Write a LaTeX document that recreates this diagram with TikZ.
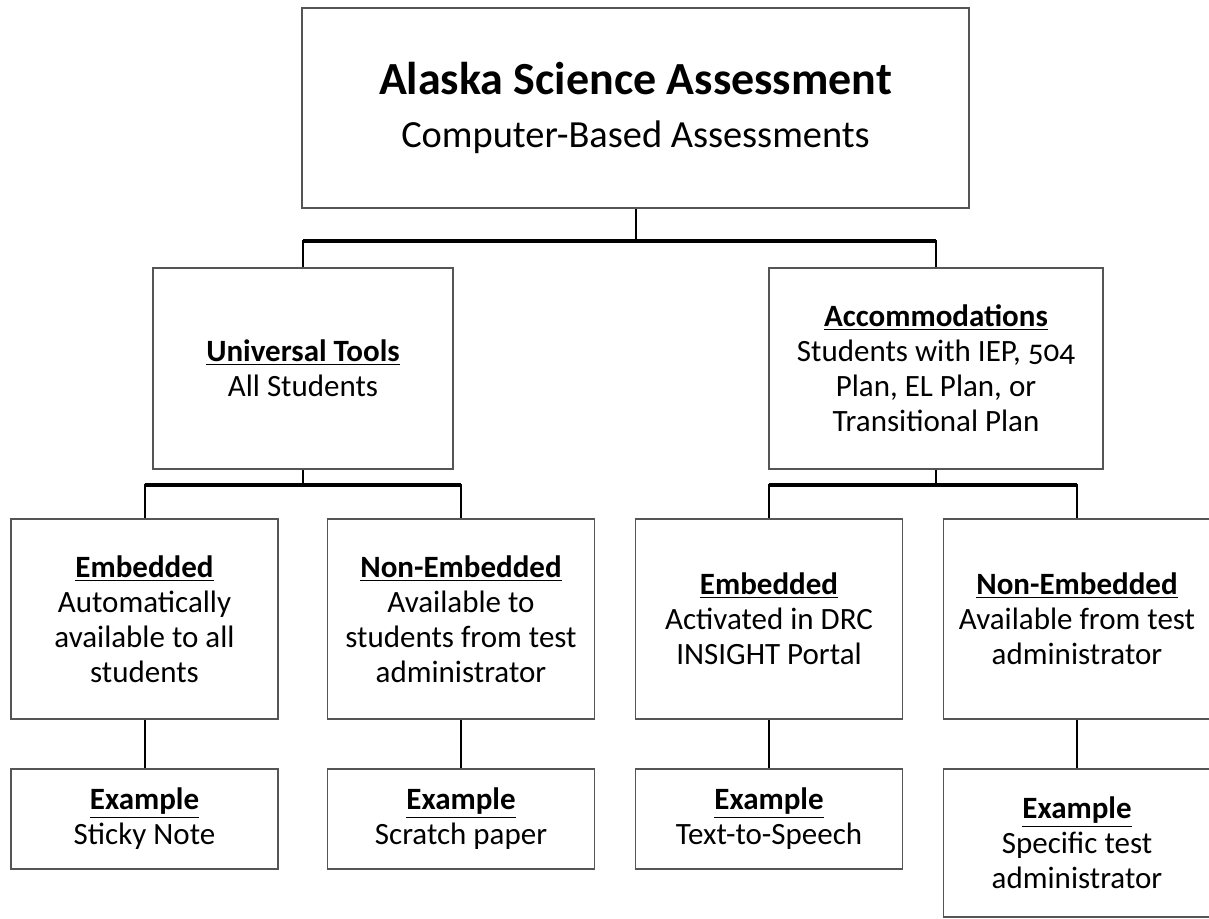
\documentclass[tikz,border=0pt]{standalone}
\usepackage{fontspec}
\setmainfont{Carlito}[Numbers=OldStyle]
\definecolor{gray700}{HTML}{555555}
\tikzstyle{caixa}=[rectangle, draw=gray700, line width=0.8pt, align=center, inner sep=0pt, font=\fontsize{15.5}{17.5}\selectfont]
\tikzstyle{nivel3}=[caixa, minimum width=133.5pt, minimum height=100pt]
\tikzstyle{nivel4}=[caixa, minimum width=133.5pt, minimum height=50pt]
\newcommand{\cab}[1]{\textbf{\underline{#1}}}

\begin{document}
\begin{tikzpicture}[x=0.5pt, y=-0.5pt, line width=1pt]
			\useasboundingbox (0,0) rectangle (1209,918);
			\node[caixa, minimum width=333.5pt, minimum height=100pt] (asa) at (635.5,108)
				{{\fontsize{23}{27}\bfseries Alaska Science Assessment}\\[9pt]{\fontsize{19.2}{22}\selectfont Computer-Based Assessments}};
			\node[caixa, minimum width=150pt, minimum height=100.5pt] (ut) at (303,368.5) {\cab{Universal Tools}\\All Students};
			\node[caixa, minimum width=167pt, minimum height=100.5pt] (acc) at (936,368.5) {\cab{Accommodations}\\Students with IEP, 504\\Plan, EL Plan, or\\Transitional Plan};
			\node[nivel3] (utemb) at (144.5,619) {\cab{Embedded}\\Automatically\\available to all\\students};
			\node[nivel3] (utnon) at (461,619) {\cab{Non-Embedded}\\Available to\\students from test\\administrator};
			\node[nivel3] (accemb) at (769,619) {\cab{Embedded}\\Activated in DRC\\INSIGHT Portal};
			\node[nivel3] (accnon) at (1077,619) {\cab{Non-Embedded}\\Available from test\\administrator};
			\node[nivel4] (utembex) at (144.5,819) {\cab{Example}\\Sticky Note};
			\node[nivel4] (utnonex) at (461,819) {\cab{Example}\\Scratch paper};
			\node[nivel4] (accembex) at (769,819) {\cab{Example}\\Text-to-Speech};
			\node[nivel4, minimum height=74pt] (accnonex) at (1077,843) {\cab{Example}\\Specific test\\administrator};
			\coordinate (j1) at (635.5,241);
			\coordinate (j2) at (303,485);
			\coordinate (j3) at (936,485);
			\path[draw=black]
				(asa.south)--(j1) (ut.north)|-(j1) (acc.north)|-(j1)
				(ut.south)--(j2) (utemb.north)|-(j2) (utnon.north)|-(j2)
				(acc.south)--(j3) (accemb.north)|-(j3) (accnon.north)|-(j3)
				(utemb)--(utembex) (utnon)--(utnonex) (accemb)--(accembex) (accnon)--(accnonex);
			\path[draw=black, line width=1.6pt]
				(ut.north|-j1)--(acc.north|-j1)
				(utemb.north|-j2)--(utnon.north|-j2)
				(accemb.north|-j3)--(accnon.north|-j3);
		\end{tikzpicture}
\end{document}
